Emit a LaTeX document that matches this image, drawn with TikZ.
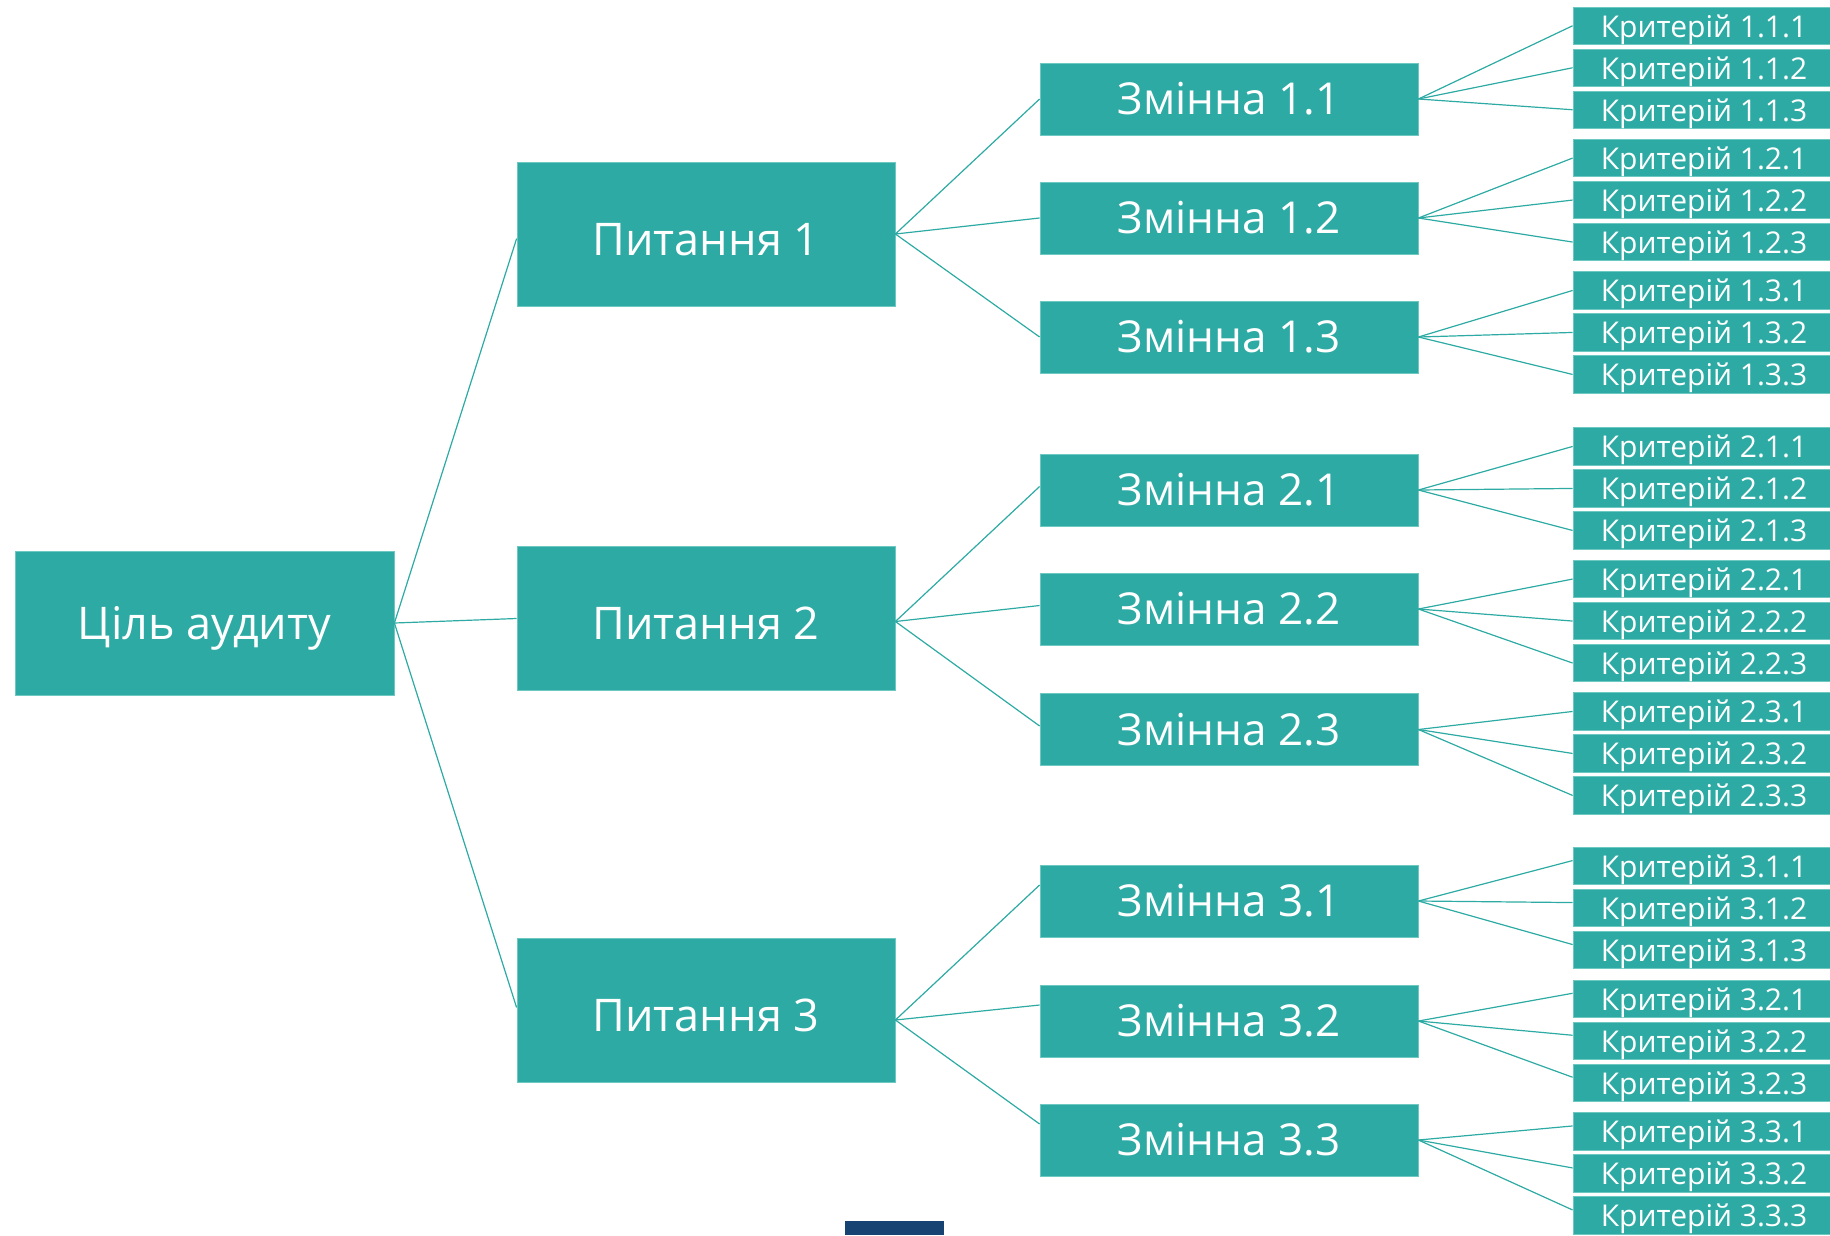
\documentclass[tikz,border=0pt]{standalone}
\usepackage{fontspec}
\setmainfont{Open Sans}

\definecolor{tealbox}{RGB}{44,170,163}
\definecolor{tealedge}{RGB}{110,200,194}
\definecolor{navybar}{RGB}{23,67,114}

\tikzset{
  box/.style={fill=tealbox, draw=tealedge, line width=0.8pt, text=white, inner sep=0pt, anchor=center},
  bigbox/.style={box, minimum width=378, minimum height=144, font=\fontsize{45}{45}\selectfont,
    text height=42pt, text depth=0pt},
  varbox/.style={box, minimum width=378, minimum height=72, font=\fontsize{44}{44}\selectfont},
  critbox/.style={box, minimum width=262, minimum height=37.5, font=\fontsize{30}{30}\selectfont,
    text height=23pt, text depth=0pt},
  link/.style={draw=tealbox, line width=1.2pt}
}

\begin{document}
\begin{tikzpicture}[x=1pt, y=-1pt]

\useasboundingbox (0,0) rectangle (1830,1235);
\clip (0,0) rectangle (1830,1235);

% Goal
\node[bigbox, minimum width=379, text depth=10pt] (goal) at (204.5,623) {Ціль аудиту};

% Questions, their variables and criteria
% q / centre / shifts of the link ends / variables (i / centre / top of first criterion)
\foreach \q/\qy/\ge/\ps/\ze/\ke/\vlist in {
    1/234/-4.6/0/0/0/{1/99/7, 2/218/139.3, 3/337/271.7},
    2/618.5/0/-3/3.5/0/{1/490/427.7, 2/609/560.3, 3/729.5/692.7},
    3/1010.5/3/-9.5/16/5.5/{1/901/847.3, 2/1021/980, 3/1140/1112.7}}
{
  \node[bigbox] (p\q) at (706,\qy) {Питання \q};
  \draw[link] (goal.east) -- ([yshift=\ge]p\q.west);

  \foreach \i/\vy/\ky in \vlist
  {
    \node[varbox] (z\q-\i) at (1229,\vy) {Змінна \q.\i};
    \draw[link] ([yshift=\ps]p\q.east) -- ([yshift=\ze]z\q-\i.west);
    \foreach \j in {1,2,3}
    {
      \node[critbox] (k\q-\i-\j) at (1704,{\ky+18.75+42*(\j-1)}) {Критерій \q.\i.\j};
      \draw[link] (z\q-\i.east) -- ([yshift=\ke]k\q-\i-\j.west);
    }
  }
}

% Bar at the bottom
\fill[navybar] (845,1221) rectangle (944,1235);

\end{tikzpicture}
\end{document}
